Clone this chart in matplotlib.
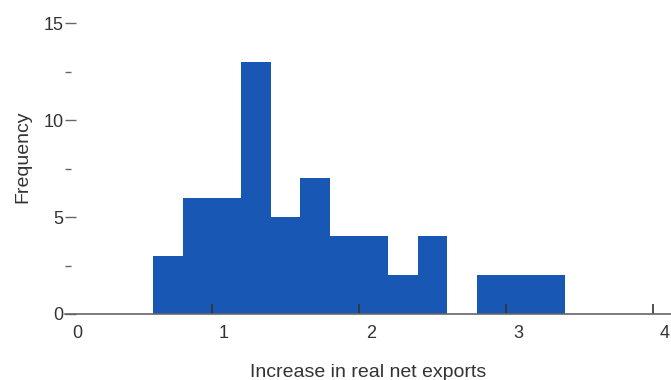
import numpy as np
import matplotlib.pyplot as plt
import matplotlib.transforms as mtransforms
from matplotlib.ticker import MultipleLocator

plt.rcParams['font.family'] = ['Liberation Sans Narrow', 'Liberation Sans', 'DejaVu Sans']

# histogram bins (width 0.2) and counts
bin_edges = [0.6, 0.8, 1.0, 1.2, 1.4, 1.6, 1.8, 2.0, 2.2, 2.4, 2.6, 2.8, 3.0, 3.2, 3.4]
counts = [3, 6, 6, 13, 5, 7, 4, 4, 2, 4, 0, 2, 2, 2]
x_ticks = [0, 1, 2, 3, 4]
y_ticks = [0, 5, 10, 15]

fig = plt.figure(figsize=(6.71, 3.80), dpi=100)
ax = fig.add_axes([65 / 671, 66 / 380, 606 / 671, 314 / 380])

lefts = np.array(bin_edges[:-1])
widths = np.diff(bin_edges)
ax.bar(lefts, counts, width=widths, align='edge', color='#1957b5',
       edgecolor='none', linewidth=0)

ax.set_xlim(0, 606 / 147)
ax.set_ylim(0, 314 / 19.4)

for side in ['left', 'top', 'right']:
    ax.spines[side].set_visible(False)
ax.spines['bottom'].set_color('#666666')
ax.spines['bottom'].set_linewidth(1.2)
ax.spines['bottom'].set_zorder(5)

ax.set_xticks(x_ticks)
ax.set_yticks(y_ticks)
ax.yaxis.set_minor_locator(MultipleLocator(2.5))
ax.tick_params(axis='x', direction='in', length=7, width=1.2, color='#333333',
               pad=8, labelsize=13, labelcolor='#333333')
ax.tick_params(axis='y', which='major', direction='in', length=8, width=1,
               color='#666666', pad=1, labelsize=13, labelcolor='#333333')
ax.tick_params(axis='y', which='minor', direction='in', length=4, width=1,
               color='#666666')

# no tick mark at the origin on the x axis
ax.xaxis.get_major_ticks()[0].tick1line.set_visible(False)

# shift the x tick labels slightly to the right of their ticks
offset = mtransforms.ScaledTranslation(12 / 100, 0, fig.dpi_scale_trans)
for lbl in ax.get_xticklabels():
    lbl.set_transform(lbl.get_transform() + offset)

ax.set_xlabel('Increase in real net exports', fontsize=14, color='#333333', labelpad=16)
ax.set_ylabel('Frequency', fontsize=14, color='#333333', labelpad=9)

fig.savefig('out.png', dpi=100)
